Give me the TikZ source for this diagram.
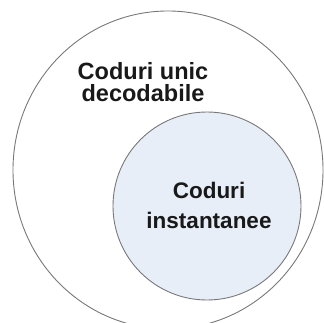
\documentclass[tikz,border=0pt]{standalone}
\usepackage{fontspec}
\setmainfont{Liberation Sans}
\usetikzlibrary{shapes.geometric}
\definecolor{setfill}{RGB}{232,238,248}
\definecolor{setline}{RGB}{120,120,120}
\definecolor{settext}{RGB}{25,25,25}

\begin{document}
\begin{tikzpicture}[x=1pt,y=-1pt]

\tikzset{outerset/.style = {ellipse, draw=setline, line width=0.9pt, minimum width=310pt, minimum height=318pt, inner sep=0pt}}
\tikzset{innerset/.style = {circle, draw=setline, line width=0.9pt, fill=setfill, minimum size=188pt, inner sep=0pt}}
\tikzset{setlabel/.style = {align=center, inner sep=0pt, text=settext}}
%\draw[help lines] (0,0) grid (323,323);
\useasboundingbox (0,0) rectangle (323,323);
\node[outerset] (ud) at (168,170) {};
\node[innerset] (inst) at (207,206) {};

\node[setlabel, font=\fontsize{23.5}{22}\selectfont\bfseries] (udlabel) at (143,82.5) {Coduri unic\\decodabile};
\node[setlabel, font=\fontsize{22.5}{30}\selectfont\bfseries] (instlabel) at (209,205) {Coduri\\instantanee};
\end{tikzpicture}
\end{document}
